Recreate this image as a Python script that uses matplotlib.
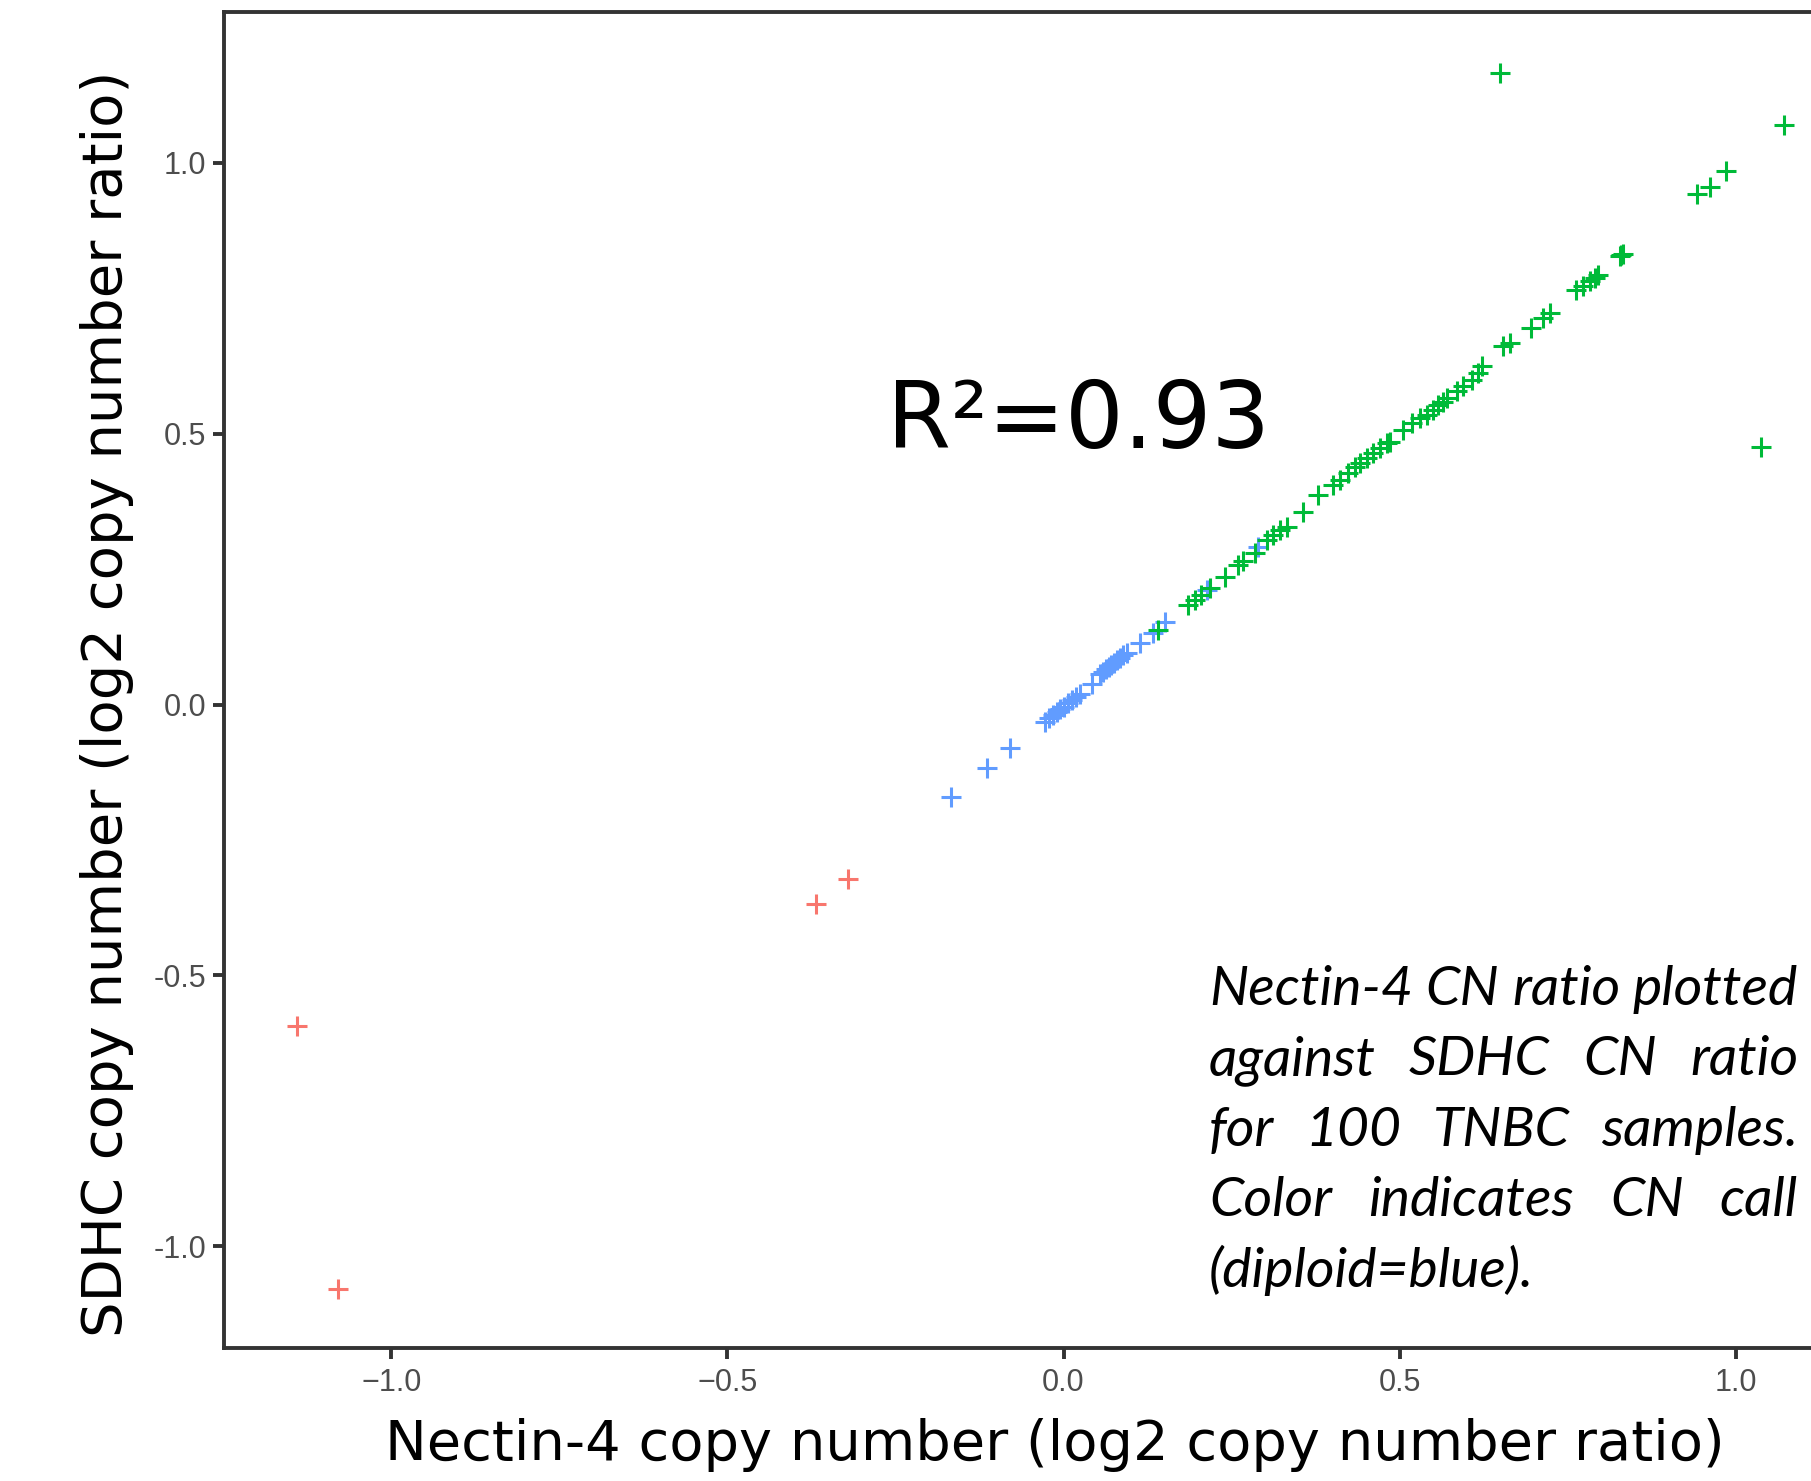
import matplotlib
matplotlib.use("Agg")
import matplotlib.pyplot as plt

# CN ratios (x = Nectin-4, y = SDHC)
red_x = [-1.141, -1.079, -0.368, -0.320]
red_y = [-0.593, -1.079, -0.369, -0.322]

blue_x = [-0.167, -0.114, -0.079, -0.028, -0.022, -0.015, -0.010, -0.005, 0.000,
          0.006, 0.012, 0.018, 0.024, 0.042, 0.054, 0.058, 0.063, 0.067, 0.071,
          0.075, 0.080, 0.084, 0.089, 0.094, 0.114, 0.133, 0.151, 0.213, 0.290]
blue_y = [-0.170, -0.118, -0.081, -0.032, -0.025, -0.019, -0.014, -0.009, -0.004,
          0.002, 0.008, 0.014, 0.019, 0.038, 0.057, 0.060, 0.065, 0.069, 0.073,
          0.077, 0.082, 0.086, 0.091, 0.095, 0.113, 0.132, 0.153, 0.211, 0.291]

green_x = [0.141, 0.185, 0.195, 0.205, 0.218, 0.240, 0.260, 0.267, 0.285, 0.302,
           0.312, 0.322, 0.332, 0.356, 0.379, 0.401, 0.411, 0.423, 0.433, 0.441,
           0.451, 0.461, 0.471, 0.481, 0.486, 0.505, 0.518, 0.530, 0.540, 0.550,
           0.557, 0.565, 0.570, 0.585, 0.595, 0.607, 0.617, 0.622, 0.654, 0.664,
           0.696, 0.714, 0.724, 0.763, 0.773, 0.783, 0.790, 0.795, 0.828, 0.830,
           0.832, 0.943, 0.961, 0.986, 0.649, 1.072, 1.038]
green_y = [0.138, 0.184, 0.193, 0.202, 0.215, 0.236, 0.258, 0.264, 0.279, 0.304,
           0.313, 0.322, 0.328, 0.356, 0.387, 0.405, 0.415, 0.427, 0.439, 0.445,
           0.455, 0.464, 0.473, 0.482, 0.485, 0.507, 0.519, 0.529, 0.535, 0.544,
           0.553, 0.559, 0.565, 0.578, 0.587, 0.599, 0.612, 0.624, 0.661, 0.667,
           0.695, 0.713, 0.722, 0.765, 0.773, 0.781, 0.787, 0.793, 0.827, 0.830,
           0.832, 0.942, 0.955, 0.985, 1.166, 1.070, 0.475]

x_ticks = [-1.0, -0.5, 0.0, 0.5, 1.0]
y_ticks = [-1.0, -0.5, 0.0, 0.5, 1.0]

caption = ["Nectin-4 CN ratio plotted",
           "against SDHC CN ratio",
           "for 100 TNBC samples.",
           "Color indicates CN call",
           "(diploid=blue)."]

W, H = 1811, 1481
fig = plt.figure(figsize=(W / 100, H / 100), dpi=100)
ax = fig.add_axes([0.1237, 0.0897, 0.8763, 0.9025])

mk = dict(marker='+', s=190, linewidths=2.2)
ax.scatter(blue_x, blue_y, color='#619CFF', **mk)
ax.scatter(green_x, green_y, color='#00BA38', **mk)
ax.scatter(red_x, red_y, color='#F8766D', **mk)

ax.set_xlim(-1.249, 1.112)
ax.set_ylim(-1.188, 1.279)
ax.set_xticks(x_ticks)
ax.set_xticklabels([f"{v:.1f}".replace("-", "\u2212") for v in x_ticks])
ax.set_yticks(y_ticks)
ax.set_yticklabels([f"{v:.1f}" for v in y_ticks])

for s in ['left', 'bottom', 'top']:
    ax.spines[s].set_color('#333333')
    ax.spines[s].set_linewidth(2.8)
ax.spines['right'].set_visible(False)
ax.tick_params(length=8, width=2.8, color='#333333', labelcolor='#4D4D4D',
               labelsize=22)
ax.tick_params(axis='x', pad=6)
ax.tick_params(axis='y', pad=5)
for lab in ax.get_xticklabels() + ax.get_yticklabels():
    lab.set_family('Liberation Sans')

xl = fig.text(0.5824, 0.0242, "Nectin-4 copy number (log2 copy number ratio)",
              ha='center', va='center', fontsize=36, family='DejaVu Sans')
yl = fig.text(0.0593, 0.5246, "SDHC copy number (log2 copy number ratio)",
              ha='center', va='center', rotation=90, fontsize=36,
              family='DejaVu Sans')
r2 = fig.text(887 / W, 1 - 448 / H, "R\u00b2=0.93", ha='left', va='baseline',
              fontsize=68, family='DejaVu Sans')

fig.canvas.draw()
rend = fig.canvas.get_renderer()


def fit(t, target, vertical=False):
    bb = t.get_window_extent(rend)
    size = bb.height if vertical else bb.width
    t.set_fontsize(t.get_fontsize() * target / size)


fit(xl, 1340)
fit(yl, 1265, vertical=True)
fit(r2, 383)

# justified caption, placed word by word
left_px, right_px = 1209, 1798
baselines = [1005, 1075, 1146, 1216, 1287]
cap_style = dict(family='Lato', style='italic', va='baseline', ha='left')

probe = fig.text(0, 0, caption[0], fontsize=30, **cap_style)
cap_size = 30 * (right_px - left_px) / probe.get_window_extent(rend).width
probe.remove()

for i, line in enumerate(caption):
    words = line.split()
    ypos = 1 - baselines[i] / H
    if i == len(caption) - 1:
        fig.text(left_px / W, ypos, line, fontsize=cap_size, **cap_style)
        continue
    items = [fig.text(0, ypos, w, fontsize=cap_size, **cap_style) for w in words]
    widths = [t.get_window_extent(rend).width for t in items]
    gap = (right_px - left_px - sum(widths)) / (len(words) - 1)
    x = left_px
    for t, w in zip(items, widths):
        t.set_x(x / W)
        x += w + gap

fig.savefig("out.png", dpi=100)
